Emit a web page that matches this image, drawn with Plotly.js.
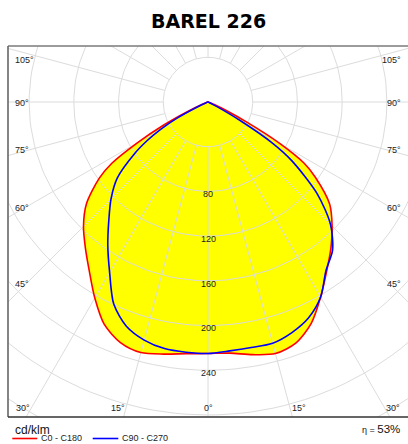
<!DOCTYPE html>
<html><head><meta charset="utf-8">
<script src="https://cdn.plot.ly/plotly-3.0.1.min.js"></script>
<style>html,body{margin:0;padding:0;background:#fff}#chart{width:408px;height:444px}</style>
</head><body><div id="chart"></div>
<script>
// gamma angles (deg from nadir) and intensities (cd/klm)
const angles = [0,5,10,15,20,25,30,35,40,45,50,55,57.5,60,62.5,65,67.5,70,80,90];
const c0   = [225,225.5,229.5,233,229.5,218.5,201.5,185,171,157,142,117,102,74,40,18,6,2,0.5,0];
const c180 = [225,226,229,232,229,219.5,202.5,185,170.6,157.5,142,118.7,102,73,45,20,7,2,0.5,0];
const c90  = [225,223.5,223,223.4,219.5,213,201.5,184,173.3,155,127.4,91.4,68,33.6,10,3,1,0.5,0.2,0];
const c270 = [225,224.7,224,220.5,213.5,199.5,176,156.3,138,122.7,106,79.6,65,49.3,31.6,12,4,1.5,0.5,0];

const ringValues = [40,80,120,160,200,240,280,320];
const ringLabels = [80,120,160,200,240];
const spokeStep = 15;
const leftAngleLabels = ['105°','90°','75°','60°','45°'];
const rightAngleLabels = ['105°','90°','75°','60°','45°'];
const bottomAngleLabels = ['30°','15°','0°','15°','30°'];
const titleText = 'BAREL 226';
const unitText = 'cd/klm';
const seriesNames = ['C0 - C180','C90 - C270'];
const effText = '53%';

const D = Math.PI/180;
function curve(leftVals, rightVals){
  const x=[], y=[];
  for(let i=angles.length-1;i>=0;i--){ const a=angles[i]*D, r=leftVals[i]; x.push(-r*Math.sin(a)); y.push(-r*Math.cos(a)); }
  for(let i=1;i<angles.length;i++){ const a=angles[i]*D, r=rightVals[i]; x.push(r*Math.sin(a)); y.push(-r*Math.cos(a)); }
  return {x,y};
}
const red = curve(c180, c0);
const blue = curve(c270, c90);

// grid
const gx=[], gy=[];
ringValues.forEach(r=>{ for(let a=0;a<=360;a+=2){ gx.push(r*Math.cos(a*D)); gy.push(r*Math.sin(a*D)); } gx.push(null); gy.push(null); });
for(let a=0;a<360;a+=spokeStep){ const s=Math.sin(a*D), c=Math.cos(a*D); gx.push(40*s, 500*s, null); gy.push(-40*c, -500*c, null); }

const fillStyle = {type:'scatter', mode:'lines', fill:'toself', fillcolor:'#ffff00', line:{width:0, shape:'spline', smoothing:0.8}, hoverinfo:'skip'};
const traces = [
  Object.assign({x:red.x, y:red.y}, fillStyle),
  Object.assign({x:blue.x, y:blue.y}, fillStyle),
  {type:'scatter', mode:'lines', x:gx, y:gy, line:{color:'#dcdcdc', width:1}, hoverinfo:'skip'},
  {type:'scatter', mode:'lines', x:red.x, y:red.y, name:seriesNames[0], line:{color:'#ff0000', width:1.6, shape:'spline', smoothing:0.8}},
  {type:'scatter', mode:'lines', x:blue.x, y:blue.y, name:seriesNames[1], line:{color:'#0000ff', width:1.6, shape:'spline', smoothing:0.8}}
];

const L=8, T=46, B=417, PW=400, PH=371;
const px = x => (x-L)/PW, py = y => (B-y)/PH;
const lblFont = {family:'Liberation Sans, Arial, sans-serif', size:9, color:'#222'};
const ann = [];
const sideY = [59.5,102.5,150,207.5,283.5];
leftAngleLabels.forEach((t,i)=>ann.push({xref:'paper',yref:'paper',x:px(13),y:py(sideY[i]),text:t,showarrow:false,xanchor:'left',yanchor:'middle',font:lblFont}));
rightAngleLabels.forEach((t,i)=>ann.push({xref:'paper',yref:'paper',x:px(402.5),y:py(sideY[i]),text:t,showarrow:false,xanchor:'right',yanchor:'middle',font:lblFont}));
const botX = [22.5,117.7,208,298.5,393];
bottomAngleLabels.forEach((t,i)=>ann.push({xref:'paper',yref:'paper',x:px(botX[i]),y:py(408),text:t,showarrow:false,xanchor:'center',yanchor:'middle',font:lblFont}));
ringLabels.forEach(r=>ann.push({xref:'x',yref:'y',x:0,y:-r,yshift:-2.7,text:String(r),showarrow:false,xanchor:'center',yanchor:'middle',font:lblFont}));
ann.push({xref:'paper',yref:'paper',x:px(12.5),y:py(429.5),text:unitText,showarrow:false,xanchor:'left',yanchor:'middle',font:{family:'Liberation Sans, Arial, sans-serif',size:12,color:'#111'}});
ann.push({xref:'paper',yref:'paper',x:px(40),y:py(444),text:seriesNames[0],showarrow:false,xanchor:'left',yanchor:'bottom',borderpad:0,font:lblFont});
ann.push({xref:'paper',yref:'paper',x:px(120.5),y:py(444),text:seriesNames[1],showarrow:false,xanchor:'left',yanchor:'bottom',borderpad:0,font:lblFont});
ann.push({xref:'paper',yref:'paper',x:px(402),y:py(429),text:'<span style="font-size:9px">η = </span>'+effText,showarrow:false,xanchor:'right',yanchor:'middle',font:{family:'Liberation Sans, Arial, sans-serif',size:11.5,color:'#111'}});
ann.push({xref:'paper',yref:'paper',x:px(208),y:py(21.5),text:'<b>'+titleText+'</b>',showarrow:false,xanchor:'center',yanchor:'middle',font:{family:'DejaVu Sans, sans-serif',size:19,color:'#000'}});

const shapes = [
  {type:'line',xref:'paper',yref:'paper',x0:0,x1:1.01,y0:1,y1:1,line:{color:'#7a7a7a',width:1.6},layer:'above'},
  {type:'line',xref:'paper',yref:'paper',x0:0,x1:0,y0:0,y1:1,line:{color:'#666',width:1.6},layer:'above'},
  {type:'line',xref:'paper',yref:'paper',x0:0,x1:1.01,y0:0,y1:0,line:{color:'#333',width:1.6},layer:'above'},
  {type:'line',xref:'paper',yref:'paper',x0:px(12.3),x1:px(37.3),y0:py(438.5),y1:py(438.5),line:{color:'#ff0000',width:1.6}},
  {type:'line',xref:'paper',yref:'paper',x0:px(92.7),x1:px(118.3),y0:py(438.5),y1:py(438.5),line:{color:'#0000ff',width:1.6}}
];

const layout = {
  width:408, height:444,
  margin:{l:L, r:0, t:T, b:444-B, pad:0},
  paper_bgcolor:'#ffffff', plot_bgcolor:'#ffffff',
  xaxis:{range:[-178.9,178.9], visible:false, fixedrange:true},
  yaxis:{range:[-281.8,50.1], visible:false, fixedrange:true},
  showlegend:false,
  annotations:ann, shapes:shapes
};
Plotly.newPlot('chart', traces, layout, {staticPlot:true, displayModeBar:false});
</script></body></html>
